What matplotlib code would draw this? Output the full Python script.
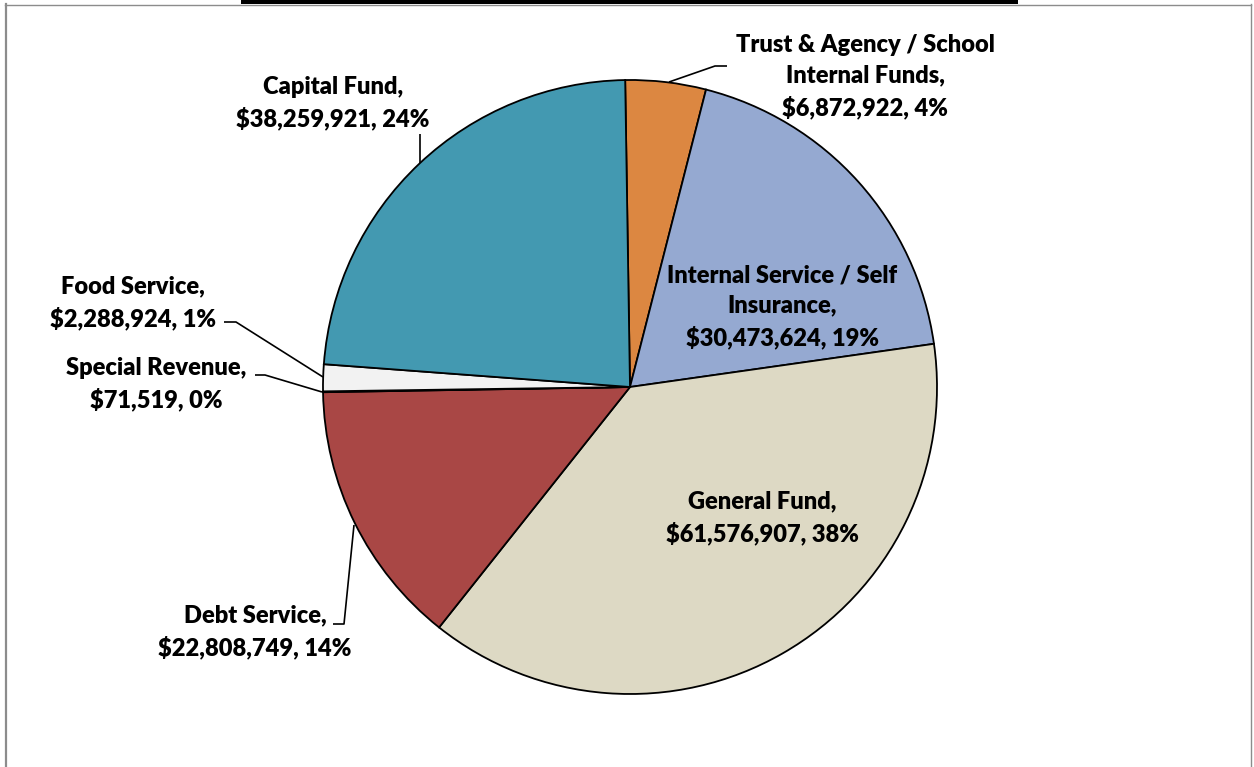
import matplotlib
matplotlib.use('Agg')
import matplotlib.pyplot as plt
from matplotlib.patches import Rectangle
from matplotlib.lines import Line2D

W, H = 1254, 767

# ---- data (clockwise from 12 o'clock) ----
funds = ['Trust & Agency / School\nInternal Funds', 'Internal Service / Self\nInsurance',
         'General Fund', 'Debt Service', 'Special Revenue', 'Food Service', 'Capital Fund']
amounts = [6872922, 30473624, 61576907, 22808749, 71519, 2288924, 38259921]
colors = ['#DC8741', '#95A9D1', '#DDD9C4', '#A94745', '#FFFFFF', '#F2F2F2', '#4399B1']

# label block centres (pixels, y from top) and leader polylines
label_pos = [(865, 77), (782, 307), (762, 518), (255, 632), (156, 384), (133, 303), (333, 103)]
leaders = [
    [(669, 82), (715, 66), (727, 66)],
    None,
    None,
    [(333, 624), (344, 624), (354, 525)],
    [(255, 375), (265, 375), (322, 392)],
    [(224, 322), (236, 322), (323, 377)],
    [(420, 134), (420, 163)],
]


def Y(py):
    return H - py


fig = plt.figure(figsize=(W / 100, H / 100), dpi=100)
ax = fig.add_axes([0, 0, 1, 1])

total = sum(amounts)
ax.pie(amounts, colors=colors, startangle=90.9, counterclock=False,
       center=(630, Y(387)), radius=307, frame=True,
       wedgeprops=dict(edgecolor='black', linewidth=1.3))

for name, amt, (px, py) in zip(funds, amounts, label_pos):
    pct = round(100 * amt / total)
    txt = f"{name},\n${amt:,}, {pct}%"
    ax.text(px, Y(py), txt, ha='center', va='center', fontsize=17,
            fontweight='heavy', family='Lato', linespacing=1.46, color='black')

for pts in leaders:
    if pts is None:
        continue
    xs = [p[0] for p in pts]
    ys = [Y(p[1]) for p in pts]
    ax.plot(xs, ys, color='black', lw=1.2, solid_capstyle='butt')

# chart frame + black strip at the top
ax.add_line(Line2D([5, 1251], [Y(4.5), Y(4.5)], color='#8c8c8c', lw=1.0))
ax.add_line(Line2D([6, 6], [Y(4), 0], color='#8c8c8c', lw=1.6))
ax.add_line(Line2D([1251, 1251], [Y(4), 0], color='#8c8c8c', lw=1.0))
ax.add_patch(Rectangle((241, Y(4)), 777, 4, color='black', lw=0))

ax.set_xlim(0, W)
ax.set_ylim(0, H)
ax.set_aspect('equal')
ax.axis('off')

fig.savefig('out.png', dpi=100)
